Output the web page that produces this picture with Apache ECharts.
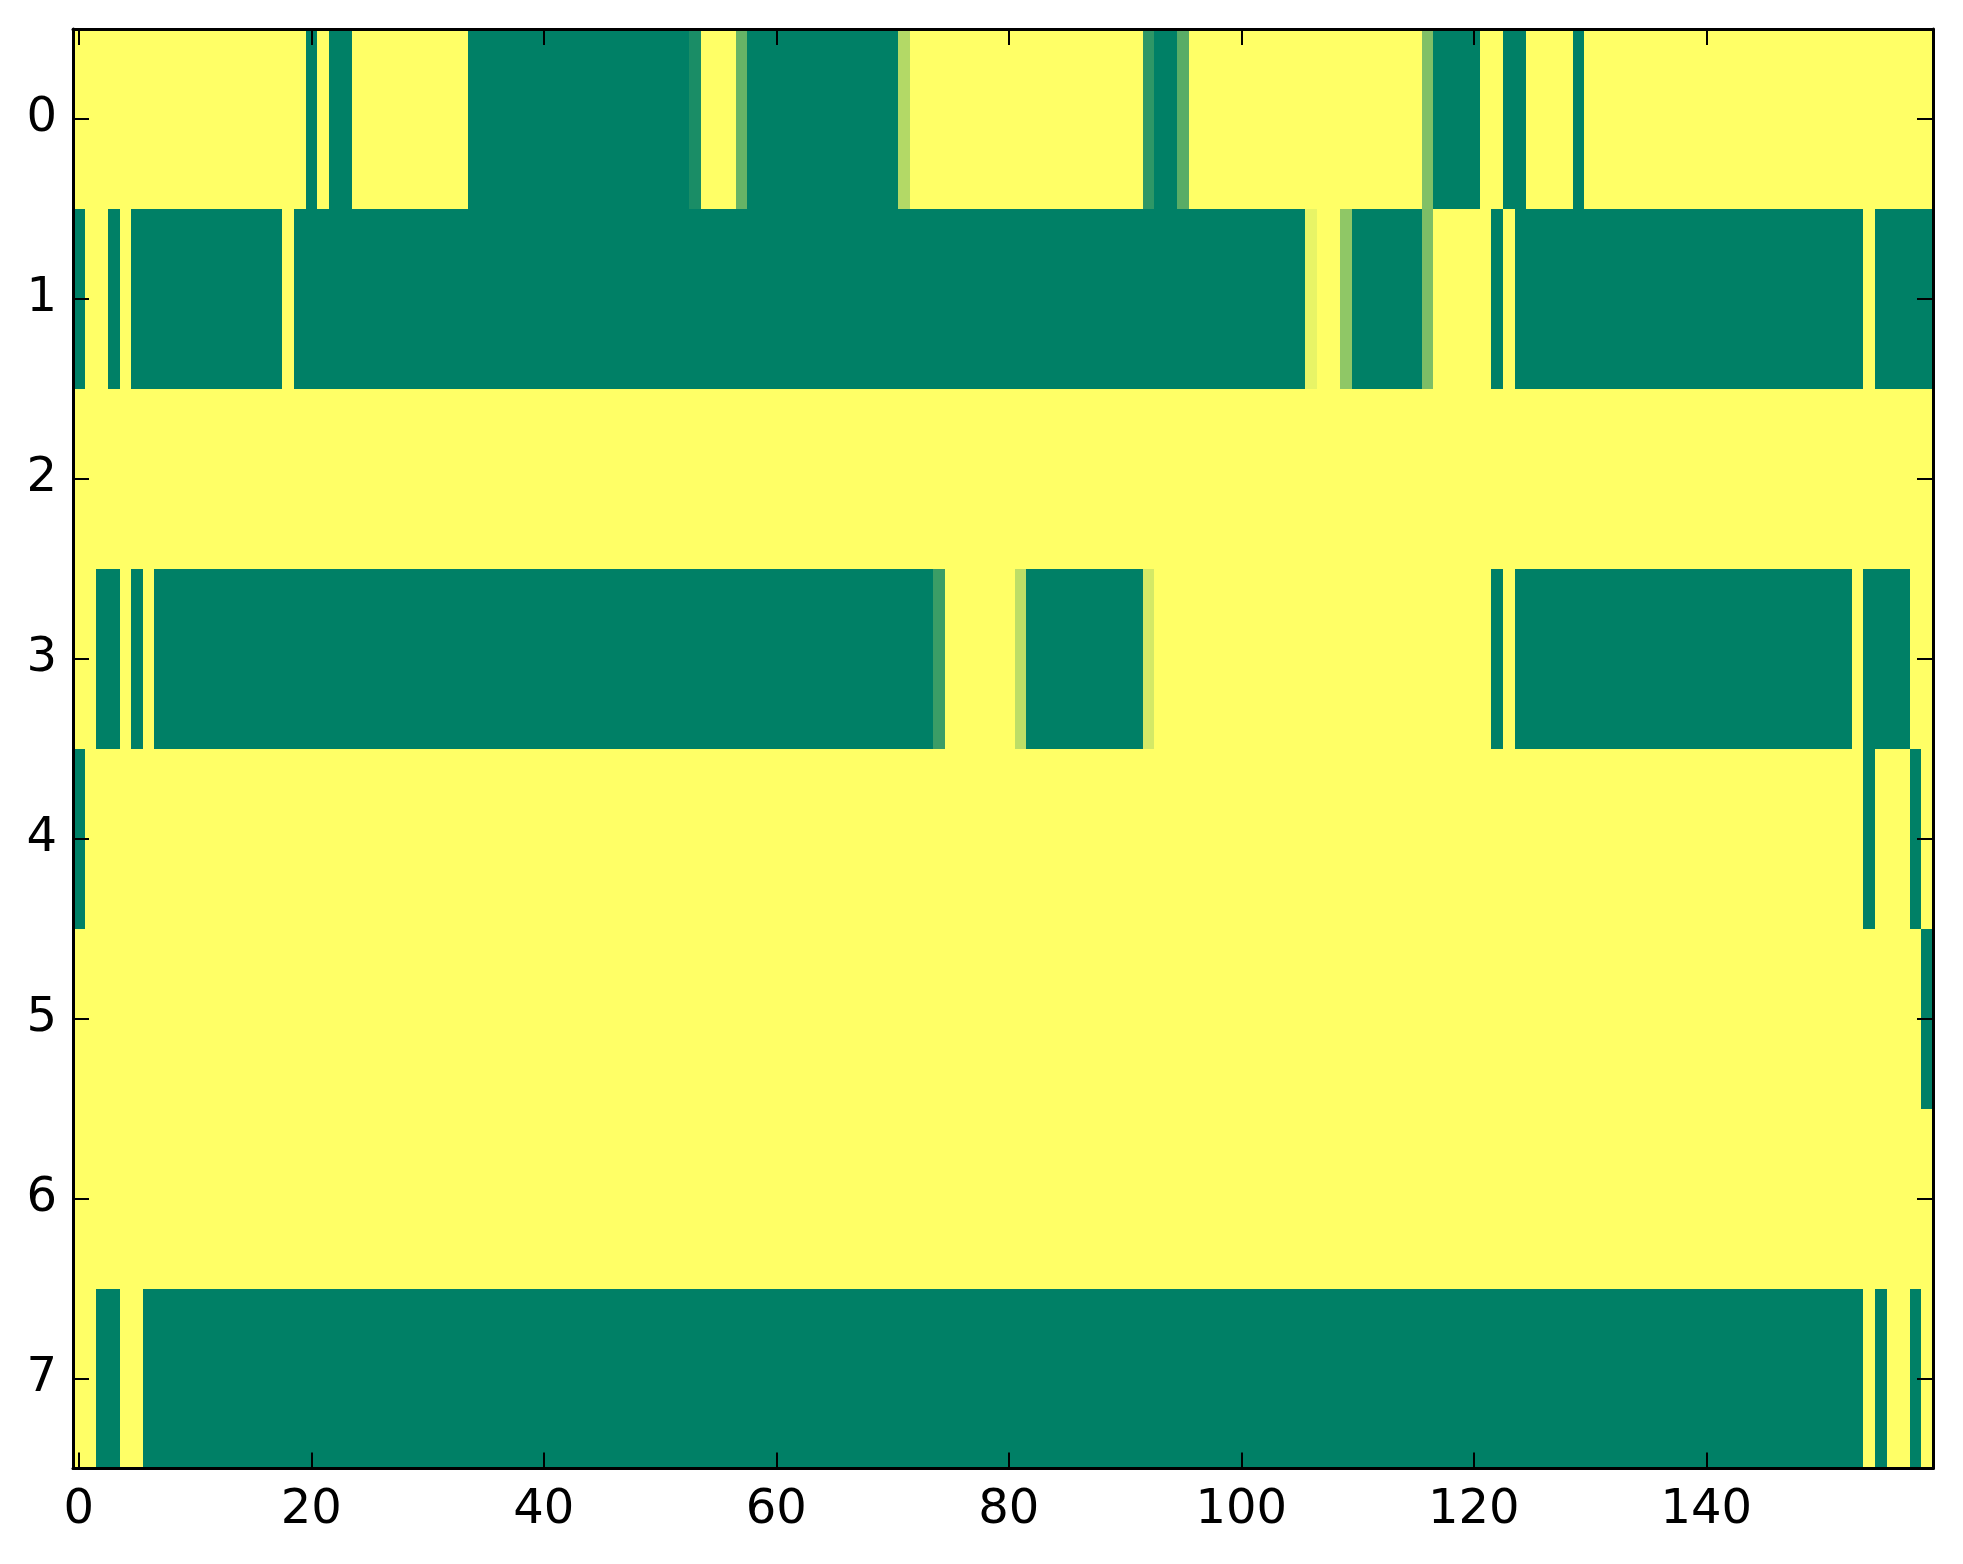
<!DOCTYPE html>
<html>
<head>
<meta charset="utf-8">
<style>
html,body{margin:0;padding:0;background:#ffffff;}
#chart{width:1963px;height:1564px;}
</style>
<script src="https://cdn.jsdelivr.net/npm/echarts@6/dist/echarts.min.js"></script>
</head>
<body>
<div id="chart"></div>
<script>
// ---- data (0 = green, 1 = yellow) ----
const row0 = [
  1,1,1,1,1,1,1,1,1,1,1,1,1,1,1,1,1,1,1,1,
  0,1,0,0,1,1,1,1,1,1,1,1,1,1,0,0,0,0,0,0,
  0,0,0,0,0,0,0,0,0,0,0,0,0,0.1,1,1,1,0.4,0,0,
  0,0,0,0,0,0,0,0,0,0,0,0.7,1,1,1,1,1,1,1,1,
  1,1,1,1,1,1,1,1,1,1,1,1,0.18,0,0,0.35,1,1,1,1,
  1,1,1,1,1,1,1,1,1,1,1,1,1,1,1,1,0.5,0,0,0,
  0,1,1,0,0,1,1,1,1,0,1,1,1,1,1,1,1,1,1,1,
  1,1,1,1,1,1,1,1,1,1,1,1,1,1,1,1,1,1,1,1
];
const row1 = [
  0,1,1,0,1,0,0,0,0,0,0,0,0,0,0,0,0,0,1,0,
  0,0,0,0,0,0,0,0,0,0,0,0,0,0,0,0,0,0,0,0,
  0,0,0,0,0,0,0,0,0,0,0,0,0,0,0,0,0,0,0,0,
  0,0,0,0,0,0,0,0,0,0,0,0,0,0,0,0,0,0,0,0,
  0,0,0,0,0,0,0,0,0,0,0,0,0,0,0,0,0,0,0,0,
  0,0,0,0,0,0,0.91,1,1,0.56,0,0,0,0,0,0,0.49,1,1,1,
  1,1,0,1,0,0,0,0,0,0,0,0,0,0,0,0,0,0,0,0,
  0,0,0,0,0,0,0,0,0,0,0,0,0,0,1,0,0,0,0,0
];
const row2 = [
  1,1,1,1,1,1,1,1,1,1,1,1,1,1,1,1,1,1,1,1,
  1,1,1,1,1,1,1,1,1,1,1,1,1,1,1,1,1,1,1,1,
  1,1,1,1,1,1,1,1,1,1,1,1,1,1,1,1,1,1,1,1,
  1,1,1,1,1,1,1,1,1,1,1,1,1,1,1,1,1,1,1,1,
  1,1,1,1,1,1,1,1,1,1,1,1,1,1,1,1,1,1,1,1,
  1,1,1,1,1,1,1,1,1,1,1,1,1,1,1,1,1,1,1,1,
  1,1,1,1,1,1,1,1,1,1,1,1,1,1,1,1,1,1,1,1,
  1,1,1,1,1,1,1,1,1,1,1,1,1,1,1,1,1,1,1,1
];
const row3 = [
  1,1,0,0,1,0,1,0,0,0,0,0,0,0,0,0,0,0,0,0,
  0,0,0,0,0,0,0,0,0,0,0,0,0,0,0,0,0,0,0,0,
  0,0,0,0,0,0,0,0,0,0,0,0,0,0,0,0,0,0,0,0,
  0,0,0,0,0,0,0,0,0,0,0,0,0,0,0.23,1,1,1,1,1,
  1,0.74,0,0,0,0,0,0,0,0,0,0,0.83,1,1,1,1,1,1,1,
  1,1,1,1,1,1,1,1,1,1,1,1,1,1,1,1,1,1,1,1,
  1,1,0,1,0,0,0,0,0,0,0,0,0,0,0,0,0,0,0,0,
  0,0,0,0,0,0,0,0,0,0,0,0,0,1,0,0,0,0,1,1
];
const row4 = [
  0,1,1,1,1,1,1,1,1,1,1,1,1,1,1,1,1,1,1,1,
  1,1,1,1,1,1,1,1,1,1,1,1,1,1,1,1,1,1,1,1,
  1,1,1,1,1,1,1,1,1,1,1,1,1,1,1,1,1,1,1,1,
  1,1,1,1,1,1,1,1,1,1,1,1,1,1,1,1,1,1,1,1,
  1,1,1,1,1,1,1,1,1,1,1,1,1,1,1,1,1,1,1,1,
  1,1,1,1,1,1,1,1,1,1,1,1,1,1,1,1,1,1,1,1,
  1,1,1,1,1,1,1,1,1,1,1,1,1,1,1,1,1,1,1,1,
  1,1,1,1,1,1,1,1,1,1,1,1,1,1,0,1,1,1,0,1
];
const row5 = [
  1,1,1,1,1,1,1,1,1,1,1,1,1,1,1,1,1,1,1,1,
  1,1,1,1,1,1,1,1,1,1,1,1,1,1,1,1,1,1,1,1,
  1,1,1,1,1,1,1,1,1,1,1,1,1,1,1,1,1,1,1,1,
  1,1,1,1,1,1,1,1,1,1,1,1,1,1,1,1,1,1,1,1,
  1,1,1,1,1,1,1,1,1,1,1,1,1,1,1,1,1,1,1,1,
  1,1,1,1,1,1,1,1,1,1,1,1,1,1,1,1,1,1,1,1,
  1,1,1,1,1,1,1,1,1,1,1,1,1,1,1,1,1,1,1,1,
  1,1,1,1,1,1,1,1,1,1,1,1,1,1,1,1,1,1,1,0
];
const row6 = [
  1,1,1,1,1,1,1,1,1,1,1,1,1,1,1,1,1,1,1,1,
  1,1,1,1,1,1,1,1,1,1,1,1,1,1,1,1,1,1,1,1,
  1,1,1,1,1,1,1,1,1,1,1,1,1,1,1,1,1,1,1,1,
  1,1,1,1,1,1,1,1,1,1,1,1,1,1,1,1,1,1,1,1,
  1,1,1,1,1,1,1,1,1,1,1,1,1,1,1,1,1,1,1,1,
  1,1,1,1,1,1,1,1,1,1,1,1,1,1,1,1,1,1,1,1,
  1,1,1,1,1,1,1,1,1,1,1,1,1,1,1,1,1,1,1,1,
  1,1,1,1,1,1,1,1,1,1,1,1,1,1,1,1,1,1,1,1
];
const row7 = [
  1,1,0,0,1,1,0,0,0,0,0,0,0,0,0,0,0,0,0,0,
  0,0,0,0,0,0,0,0,0,0,0,0,0,0,0,0,0,0,0,0,
  0,0,0,0,0,0,0,0,0,0,0,0,0,0,0,0,0,0,0,0,
  0,0,0,0,0,0,0,0,0,0,0,0,0,0,0,0,0,0,0,0,
  0,0,0,0,0,0,0,0,0,0,0,0,0,0,0,0,0,0,0,0,
  0,0,0,0,0,0,0,0,0,0,0,0,0,0,0,0,0,0,0,0,
  0,0,0,0,0,0,0,0,0,0,0,0,0,0,0,0,0,0,0,0,
  0,0,0,0,0,0,0,0,0,0,0,0,0,0,1,0,1,1,0,1
];
const rowLabels = ['0','1','2','3','4','5','6','7'];
const xTickLabels = ['0','20','40','60','80','100','120','140'];
const columnCount = 160;

// ---- build ----
const rows = [row0, row1, row2, row3, row4, row5, row6, row7];
const columns = [];
for (let i = 0; i < columnCount; i++) columns.push(String(i));
const cells = [];
rows.forEach((r, y) => r.forEach((v, x) => cells.push([x, y, v])));

const showTick = (idx, val) => xTickLabels.indexOf(String(val)) >= 0;
const lineStyle = {color: '#000000', width: 3};
const tickStyle = {color: '#000000', width: 2};
const font = {fontFamily: 'DejaVu Sans', fontSize: 48, color: '#000000'};

function renderCell(params, api) {
  const c = api.coord([api.value(0), api.value(1)]);
  const s = api.size([1, 1]);
  const x0 = Math.round(c[0] - s[0] / 2), x1 = Math.round(c[0] + s[0] / 2);
  const y0 = Math.round(c[1] - s[1] / 2), y1 = Math.round(c[1] + s[1] / 2);
  return {
    type: 'rect',
    shape: {x: x0, y: y0, width: x1 - x0, height: y1 - y0},
    style: {fill: api.visual('color'), stroke: null},
    silent: true
  };
}

const chart = echarts.init(document.getElementById('chart'), null, {renderer: 'canvas'});
chart.setOption({
  animation: false,
  backgroundColor: '#ffffff',
  grid: {left: 73, top: 29, width: 1860, height: 1439.5},
  xAxis: [
    {type: 'category', data: columns, position: 'bottom', z: 10,
     axisLine: {show: true, onZero: false, lineStyle: lineStyle},
     axisTick: {show: true, inside: true, length: 16, alignWithLabel: true, interval: showTick, lineStyle: tickStyle},
     axisLabel: Object.assign({show: true, interval: showTick, margin: 18}, font),
     splitLine: {show: false}},
    {type: 'category', data: columns, position: 'top', z: 10,
     axisLine: {show: true, onZero: false, lineStyle: lineStyle},
     axisTick: {show: true, inside: true, length: 16, alignWithLabel: true, interval: showTick, lineStyle: tickStyle},
     axisLabel: {show: false},
     splitLine: {show: false}}
  ],
  yAxis: [
    {type: 'category', data: rowLabels, inverse: true, position: 'left', z: 10,
     axisLine: {show: true, onZero: false, lineStyle: lineStyle},
     axisTick: {show: true, inside: true, length: 16, alignWithLabel: true, lineStyle: tickStyle},
     axisLabel: Object.assign({show: true, margin: 16}, font),
     splitLine: {show: false}},
    {type: 'category', data: rowLabels, inverse: true, position: 'right', z: 10,
     axisLine: {show: true, onZero: false, lineStyle: lineStyle},
     axisTick: {show: true, inside: true, length: 16, alignWithLabel: true, lineStyle: tickStyle},
     axisLabel: {show: false},
     splitLine: {show: false}}
  ],
  visualMap: {
    show: false, type: 'continuous', min: 0, max: 1, dimension: 2, seriesIndex: 0,
    inRange: {color: ['#008066', '#ffff66']}
  },
  series: [{
    type: 'custom', xAxisIndex: 0, yAxisIndex: 0, data: cells,
    encode: {x: 0, y: 1},
    renderItem: renderCell,
    silent: true
  }]
});
</script>
</body>
</html>
